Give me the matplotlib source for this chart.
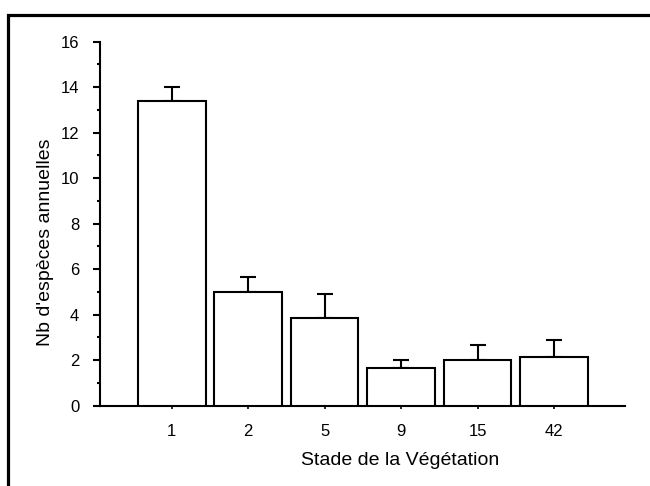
import matplotlib
matplotlib.use("Agg")
import matplotlib.pyplot as plt
from matplotlib.patches import Rectangle
import numpy as np

plt.rcParams['font.family'] = ['Liberation Sans', 'DejaVu Sans']

# data
stades = ["1", "2", "5", "9", "15", "42"]
nb_annuelles = [13.4, 5.0, 3.85, 1.65, 2.0, 2.15]
erreur_sup = [0.6, 0.65, 1.07, 0.35, 0.65, 0.72]

fig = plt.figure(figsize=(6.5, 4.86), dpi=100)
W, H = 650.0, 486.0

# cadre noir autour de la figure (coupe a droite et en bas)
fig.patches.append(Rectangle((8 / W, -0.1), 1.2, (486 - 15) / H + 0.1,
                             transform=fig.transFigure, fill=False,
                             edgecolor="black", linewidth=2.3))

ax = fig.add_axes([100 / W, 80.3 / H, 525 / W, 364 / H])
x = np.arange(len(stades))
yerr = np.vstack([np.zeros(len(erreur_sup)), erreur_sup])
ax.bar(x, nb_annuelles, width=0.885, facecolor="white", edgecolor="black",
       linewidth=1.5, zorder=3)
ax.errorbar(x, nb_annuelles, yerr=yerr, fmt="none", ecolor="black",
            elinewidth=1.5, capsize=5.5, capthick=1.5, zorder=2)

ax.set_xlim(-0.94, 5.93)
ax.set_ylim(0, 16)
ax.set_xticks(x)
ax.set_xticklabels(stades)
ax.set_yticks(np.arange(0, 17, 2))
ax.set_yticks(np.arange(1, 16, 2), minor=True)

for s in ["top", "right"]:
    ax.spines[s].set_visible(False)
for s in ["left", "bottom"]:
    ax.spines[s].set_linewidth(1.5)
ax.spines["left"].set_bounds(0, 16)

ax.tick_params(axis="y", which="major", direction="out", length=5, width=1.5,
               labelsize=12, pad=10)
ax.tick_params(axis="y", which="minor", direction="out", length=2.5, width=1.5)
ax.tick_params(axis="x", which="major", direction="out", length=2.5, width=1.2,
               labelsize=12, pad=11)

ax.set_xlabel("Stade de la Végétation", fontsize=14)
ax.set_ylabel("Nb d'espèces annuelles", fontsize=14)
ax.xaxis.set_label_coords(0.571, -0.128)
ax.yaxis.set_label_coords(-0.087, 0.45)

fig.savefig("out.png", dpi=100)
